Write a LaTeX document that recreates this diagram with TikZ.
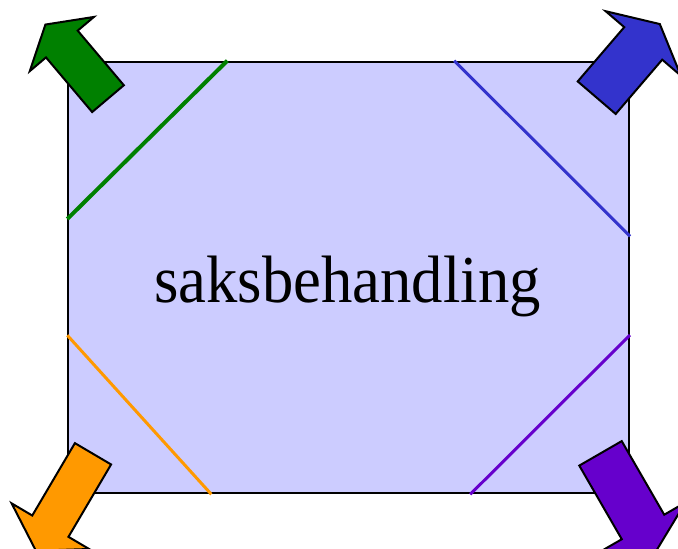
\documentclass[tikz,border=0pt]{standalone}
\usepackage{fontspec}
\usepackage{xcolor}
\usetikzlibrary{calc,positioning}
\setmainfont{Liberation Serif}
\definecolor{caseFill}{RGB}{204,204,255}
\definecolor{caseGreen}{RGB}{0,128,0}
\definecolor{caseBlue}{RGB}{51,51,204}
\definecolor{caseOrange}{RGB}{255,153,0}
\definecolor{casePurple}{RGB}{102,0,204}
% block arrow: base, angle, colour, shaft half width, shaft length, head half width, tip
\newcommand{\CornerArrow}[7]{%
\begin{scope}[shift={(#1)},rotate=#2]
  \draw[line width=1.5pt,fill=#3] (0,-#4) -- (#5,-#4) -- (#5,-#6) -- (#7,0) -- (#5,#6) -- (#5,#4) -- (0,#4) -- cycle;
\end{scope}}

\begin{document}
\begin{tikzpicture}[x=0.75pt,y=-0.75pt]
\path[use as bounding box,clip] (0,0) rectangle (678,549);
\node[draw,line width=1.5pt,fill=caseFill,minimum width=420.5pt,minimum height=323.7pt,inner sep=0pt] (case) at (348.65,277.5) {};
% corner strokes
\draw[caseGreen,line width=3pt] ($(case.north west)+(0,158.3)$) -- ($(case.north west)+(160,0)$);
\draw[caseBlue,line width=2.25pt] ($(case.north east)+(-175.7,0)$) -- ($(case.north east)+(0,175.6)$);
\draw[caseOrange,line width=2.25pt] ($(case.south west)+(0,-159)$) -- ($(case.south west)+(144,0)$);
\draw[casePurple,line width=2.25pt] ($(case.south east)+(-159.7,0)$) -- ($(case.south east)+(0,-159.3)$);
% arrows
\CornerArrow{108,98.65}{130.2}{caseGreen}{20.75}{71.5}{42}{97}
\CornerArrow{596.7,97.7}{49.4}{caseBlue}{25}{71.5}{49.5}{97}
\CornerArrow{93,453.8}{239.5}{caseOrange}{21}{84}{45}{112.5}
\CornerArrow{600.5,453.35}{300}{casePurple}{24.5}{85}{49}{112}
\node[font=\fontsize{47}{56}\selectfont,inner sep=0pt,anchor=base] (title) at (347.5,302.3) {\scalebox{1}[1.07]{saksbehandling}};
\end{tikzpicture}
\end{document}
